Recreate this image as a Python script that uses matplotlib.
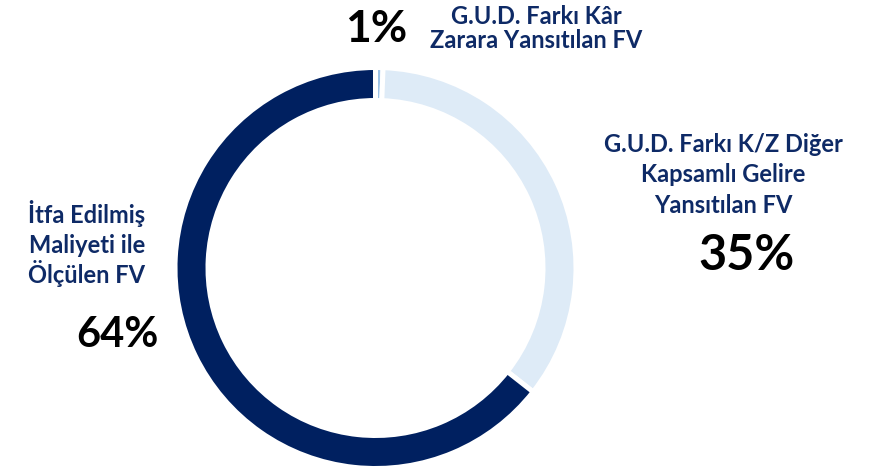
import matplotlib
matplotlib.use("Agg")
import matplotlib.pyplot as plt

# Data (clockwise from 12 o'clock)
categories = [["G.U.D. Farkı Kâr", "Zarara Yansıtılan FV"],
              ["G.U.D. Farkı K/Z Diğer", "Kapsamlı Gelire", "Yansıtılan FV"],
              ["İtfa Edilmiş", "Maliyeti ile", "Ölçülen FV"]]
values = [0.6, 35.0, 64.4]
pct_labels = ["1%", "35%", "64%"]
colors = ["#9DC3E6", "#DEEBF7", "#002060"]

W, H = 882, 471
fig = plt.figure(figsize=(W / 100, H / 100), dpi=100)
ax = fig.add_axes([0, 0, 1, 1])

cx, cy = 375.5, H - 268
ax.pie(values, colors=colors, startangle=90, counterclock=False,
       radius=200.5, center=(cx, cy),
       wedgeprops=dict(width=33, edgecolor="white", linewidth=3.6))
ax.set_xlim(0, W)
ax.set_ylim(0, H)
ax.set_aspect("equal")
ax.axis("off")

font = "Lato"
navy = "#0E2A66"

def y(p):
    return H - p

def label(lines, xc, base0, step):
    for i, s in enumerate(lines):
        ax.text(xc, y(base0 + i * step), s, ha="center", va="baseline",
                fontsize=17, fontweight="bold", color=navy, family=font)

# category labels
label(categories[0], 536, 24, 24.5)
label(categories[1], 723, 152, 30.5)
label(categories[2], 87, 223, 30)

# percentage labels
ax.text(376, y(42), pct_labels[0], ha="center", va="baseline", fontsize=32,
        fontweight="bold", color="black", family=font)
ax.text(747, y(270), pct_labels[1], ha="center", va="baseline", fontsize=35,
        fontweight="bold", color="black", family=font)
ax.text(117, y(347), pct_labels[2], ha="center", va="baseline", fontsize=30,
        fontweight="bold", color="black", family=font)

fig.savefig("out.png", dpi=100)
